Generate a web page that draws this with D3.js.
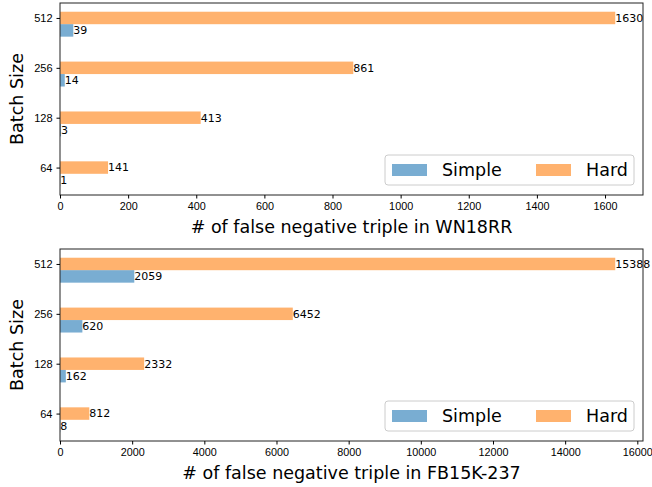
<!DOCTYPE html>
<html>
<head>
<meta charset="utf-8">
<script src="https://cdn.jsdelivr.net/npm/d3@7"></script>
<style>
body { margin: 0; background: #fff; }
svg { font-family: "DejaVu Sans", sans-serif; }
.tick line { stroke: #000; }
.val { font-size: 11px; fill: #000; }
.lab { font-size: 17.5px; fill: #000; }
</style>
</head>
<body>
<svg width="652" height="487"></svg>
<script>

// batch sizes, bottom to top
var batchSizes = ["64", "128", "256", "512"];

var wnSimple = [1, 3, 14, 39];
var wnHard = [141, 413, 861, 1630];
var wnTicks = [0, 200, 400, 600, 800, 1000, 1200, 1400, 1600];

var fbSimple = [8, 162, 620, 2059];
var fbHard = [812, 2332, 6452, 15388];
var fbTicks = [0, 2000, 4000, 6000, 8000, 10000, 12000, 14000, 16000];

var seriesNames = ["Simple", "Hard"];
var blue = "#1f77b4", orange = "#ff7f0e";

var svg = d3.select("svg");

function panel(top, simple, hard, ticks, xlabel) {
  var left = 60, right = 643, bottom = top + 192;
  var g = svg.append("g");

  var x = d3.scaleLinear()
      .domain([0, d3.max(hard) * 1.05])
      .range([left, right]);
  var y = d3.scaleLinear()
      .domain([-0.55, 3.3])
      .range([bottom, top]);
  var bh = y(0) - y(0.25);

  // bars: hard on the tick, simple just below
  g.selectAll(".hard").data(hard).enter().append("rect")
      .attr("x", x(0))
      .attr("y", function(d, i) { return y(i + 0.125); })
      .attr("width", function(d) { return x(d) - x(0); })
      .attr("height", bh)
      .attr("fill", orange).attr("fill-opacity", 0.6);
  g.selectAll(".simple").data(simple).enter().append("rect")
      .attr("x", x(0))
      .attr("y", function(d, i) { return y(i - 0.125); })
      .attr("width", function(d) { return x(d) - x(0); })
      .attr("height", bh)
      .attr("fill", blue).attr("fill-opacity", 0.6);

  // frame
  g.append("rect")
      .attr("x", left).attr("y", top)
      .attr("width", right - left).attr("height", bottom - top)
      .attr("fill", "none").attr("stroke", "#222").attr("stroke-width", 1);

  // value labels
  g.selectAll(".hv").data(hard).enter().append("text")
      .attr("class", "val")
      .attr("x", function(d) { return x(d); })
      .attr("y", function(d, i) { return y(i); })
      .attr("dy", "0.35em")
      .text(function(d) { return d; });
  g.selectAll(".sv").data(simple).enter().append("text")
      .attr("class", "val")
      .attr("x", function(d) { return x(d); })
      .attr("y", function(d, i) { return y(i - 0.25); })
      .attr("dy", "0.35em")
      .text(function(d) { return d; });

  // axes
  var xa = g.append("g")
      .attr("transform", "translate(0," + bottom + ")")
      .call(d3.axisBottom(x).tickValues(ticks).tickSize(3.5).tickPadding(4)
        .tickFormat(d3.format("d")));
  xa.select(".domain").remove();
  xa.selectAll("text").attr("font-size", 10.8).attr("fill", "#000");

  var ya = g.append("g")
      .attr("transform", "translate(" + left + ",0)")
      .call(d3.axisLeft(y).tickValues([0, 1, 2, 3]).tickSize(3.5).tickPadding(4)
        .tickFormat(function(d) { return batchSizes[d]; }));
  ya.select(".domain").remove();
  ya.selectAll("text").attr("font-size", 11).attr("fill", "#000");

  g.append("text")
      .attr("class", "lab")
      .attr("x", (left + right) / 2)
      .attr("y", bottom + 38)
      .attr("text-anchor", "middle")
      .text(xlabel);

  g.append("text")
      .attr("class", "lab")
      .attr("transform", "translate(23," + ((top + bottom) / 2) + ") rotate(-90)")
      .attr("text-anchor", "middle")
      .text("Batch Size");

  // legend
  var lg = g.append("g").attr("transform", "translate(385," + (bottom - 40) + ")");
  lg.append("rect")
      .attr("width", 249).attr("height", 30).attr("rx", 3)
      .attr("fill", "#fff").attr("fill-opacity", 0.8)
      .attr("stroke", "#ccc");
  var items = lg.selectAll(".it").data(seriesNames).enter().append("g")
      .attr("transform", function(d, i) { return "translate(" + (7 + i * 144) + ",0)"; });
  items.append("rect")
      .attr("y", 9).attr("width", 35).attr("height", 12)
      .attr("fill", function(d, i) { return i ? orange : blue; })
      .attr("fill-opacity", 0.6);
  items.append("text")
      .attr("class", "lab")
      .attr("x", 50).attr("y", 15).attr("dy", "0.35em")
      .text(function(d) { return d; });
}

panel(3, wnSimple, wnHard, wnTicks, "# of false negative triple in WN18RR");
panel(249, fbSimple, fbHard, fbTicks, "# of false negative triple in FB15K-237");

</script>
</body>
</html>
